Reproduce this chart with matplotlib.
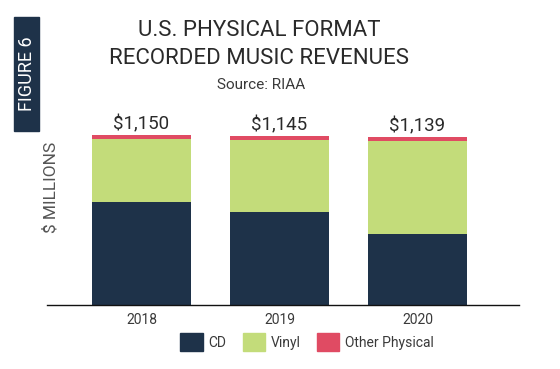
import matplotlib.pyplot as plt
from matplotlib.patches import Patch

plt.rcParams['font.family'] = ['Roboto', 'DejaVu Sans']

years = ['2018', '2019', '2020']
cd = [695, 629, 480]
vinyl = [426, 487, 629]
other = [29, 29, 30]
totals = ['$1,150', '$1,145', '$1,139']

c_cd = '#1e3249'
c_vinyl = '#c3dc7a'
c_other = '#e04b63'

fig = plt.figure(figsize=(5.6, 3.69), dpi=100)
ax = fig.add_axes([47/560, 64/369, 472/560, 192/369])

x = range(len(years))
ax.bar(x, cd, width=0.717, color=c_cd)
bottom2 = [a for a in cd]
ax.bar(x, vinyl, width=0.717, bottom=bottom2, color=c_vinyl)
bottom3 = [a + b for a, b in zip(cd, vinyl)]
ax.bar(x, other, width=0.717, bottom=bottom3, color=c_other)

for i in x:
    top = cd[i] + vinyl[i] + other[i]
    ax.text(i, top + 12, totals[i], ha='center', va='bottom', fontsize=13.5, color='#2a2a2a')

ax.set_xlim(-0.685, 2.736)
ax.set_ylim(0, 1300)
ax.set_xticks(list(x))
ax.set_xticklabels(years, fontsize=10, color='#3a3a3a')
ax.tick_params(axis='x', length=0, pad=6)
ax.set_yticks([])
for s in ['top', 'right', 'left']:
    ax.spines[s].set_visible(False)
ax.spines['bottom'].set_color('#111111')
ax.spines['bottom'].set_linewidth(1)

fig.text(51/560, 1 - 187/369, '$ MILLIONS', rotation=90, ha='center', va='center',
         fontsize=12.5, color='#555555')

fig.text(259/560, 1 - 31/369, 'U.S. PHYSICAL FORMAT', ha='center', va='center',
         fontsize=16, color='#2a2a2a')
fig.text(259/560, 1 - 59/369, 'RECORDED MUSIC REVENUES', ha='center', va='center',
         fontsize=16, color='#2a2a2a')
fig.text(261/560, 1 - 85/369, 'Source: RIAA', ha='center', va='center',
         fontsize=11, color='#3a3a3a')

# figure tag box
fig.patches.append(plt.Rectangle((14/560, 1 - 131/369), 25/560, 114/369,
                                 transform=fig.transFigure, color=c_cd))
fig.text(26.5/560, 1 - 74/369, 'FIGURE 6', rotation=90, ha='center', va='center',
         fontsize=13, color='white')

handles = [Patch(color=c_cd, label='CD'), Patch(color=c_vinyl, label='Vinyl'),
           Patch(color=c_other, label='Other Physical')]
fig.legend(handles=handles, loc='center', bbox_to_anchor=(307/560, 1 - 342/369),
           ncol=3, frameon=False, fontsize=10, handlelength=1.6, handleheight=1.6,
           handletextpad=0.4, columnspacing=1.2, labelcolor='#3a3a3a')

fig.savefig('out.png', dpi=100)
